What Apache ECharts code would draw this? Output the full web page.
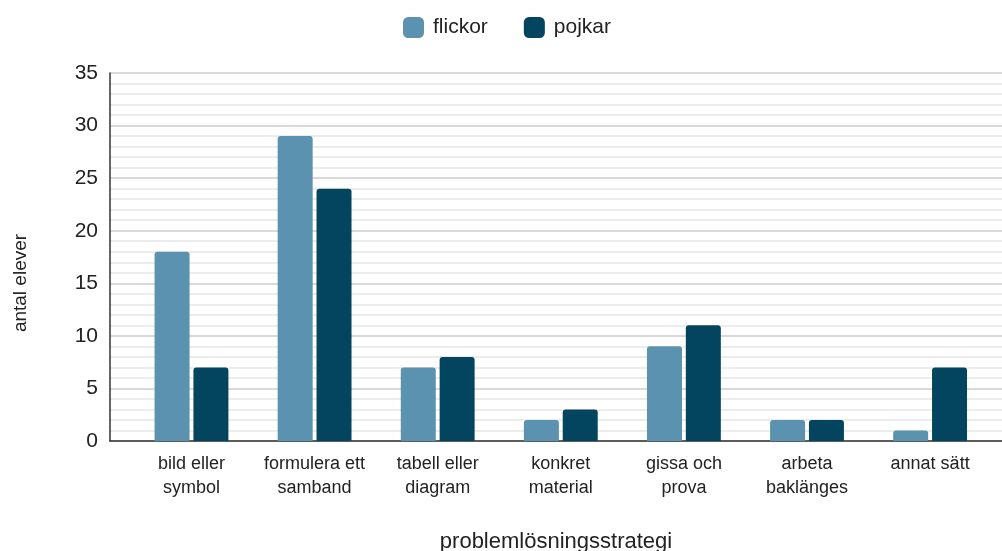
<!DOCTYPE html>
<html>
<head>
<meta charset="utf-8">
<script src="https://cdn.jsdelivr.net/npm/echarts@6/dist/echarts.min.js"></script>
<style>
  html, body { margin: 0; padding: 0; background: #fff; }
  #chart { width: 1002px; height: 551px; }
</style>
</head>
<body>
<div id="chart"></div>
<script>
// Problem-solving strategies chosen by pupils, split by girls / boys
const categories = [
  'bild eller\nsymbol',
  'formulera ett\nsamband',
  'tabell eller\ndiagram',
  'konkret\nmaterial',
  'gissa och\nprova',
  'arbeta\nbaklänges',
  'annat sätt'
];
const flickor = [18, 29, 7, 2, 9, 2, 1];
const pojkar = [7, 24, 8, 3, 11, 2, 7];
const seriesNames = ['flickor', 'pojkar'];
const yTicks = [0, 5, 10, 15, 20, 25, 30, 35];

const FONT = '"Liberation Sans", Arial, sans-serif';
const positions = categories.map((_, i) => i);

const chart = echarts.init(document.getElementById('chart'), null, { renderer: 'canvas' });

chart.setOption({
  backgroundColor: '#ffffff',
  animation: false,
  textStyle: { fontFamily: FONT, color: '#222' },
  legend: {
    top: 12,
    left: 398,
    itemWidth: 21,
    itemHeight: 21,
    itemGap: 36,
    icon: 'roundRect',
    textStyle: { fontFamily: FONT, fontSize: 21, color: '#222', padding: [0, 0, 0, 4] },
    data: seriesNames
  },
  grid: { left: 110, right: 0, top: 73, bottom: 110, containLabel: false, outerBoundsMode: 'none' },
  xAxis: {
    type: 'value',
    min: -0.662,
    max: 6.584,
    name: 'problemlösningsstrategi',
    nameLocation: 'middle',
    nameGap: 90,
    nameTextStyle: { fontFamily: FONT, fontSize: 22, color: '#222' },
    axisLine: { show: true, lineStyle: { color: '#333', width: 1.5 } },
    axisTick: { show: false },
    splitLine: { show: false },
    axisLabel: {
      customValues: positions,
      formatter: v => categories[Math.round(v)],
      fontFamily: FONT,
      fontSize: 18,
      lineHeight: 24,
      color: '#222',
      margin: 11
    }
  },
  yAxis: {
    type: 'value',
    min: yTicks[0],
    max: yTicks[yTicks.length - 1],
    interval: 5,
    name: 'antal elever',
    nameLocation: 'middle',
    nameGap: 80,
    nameTextStyle: { fontFamily: FONT, fontSize: 19, color: '#222', padding: [0, 52, 0, 0] },
    axisLine: { show: true, onZero: false, lineStyle: { color: '#333', width: 1.5 } },
    axisTick: { show: false },
    axisLabel: { fontFamily: FONT, fontSize: 21, color: '#222', margin: 12 },
    splitLine: { show: true, lineStyle: { color: '#cccccc', width: 1.5 } },
    minorTick: { show: false, splitNumber: 5 },
    minorSplitLine: { show: true, lineStyle: { color: '#e6e6e6', width: 1.5 } }
  },
  series: [
    {
      name: seriesNames[0],
      type: 'bar',
      barWidth: 35,
      barGap: '11%',
      itemStyle: { color: '#5a92af', borderRadius: [3, 3, 0, 0] },
      data: flickor.map((v, i) => [positions[i], v])
    },
    {
      name: seriesNames[1],
      type: 'bar',
      barWidth: 35,
      barGap: '11%',
      itemStyle: { color: '#03455f', borderRadius: [3, 3, 0, 0] },
      data: pojkar.map((v, i) => [positions[i], v])
    }
  ]
});
</script>
</body>
</html>
